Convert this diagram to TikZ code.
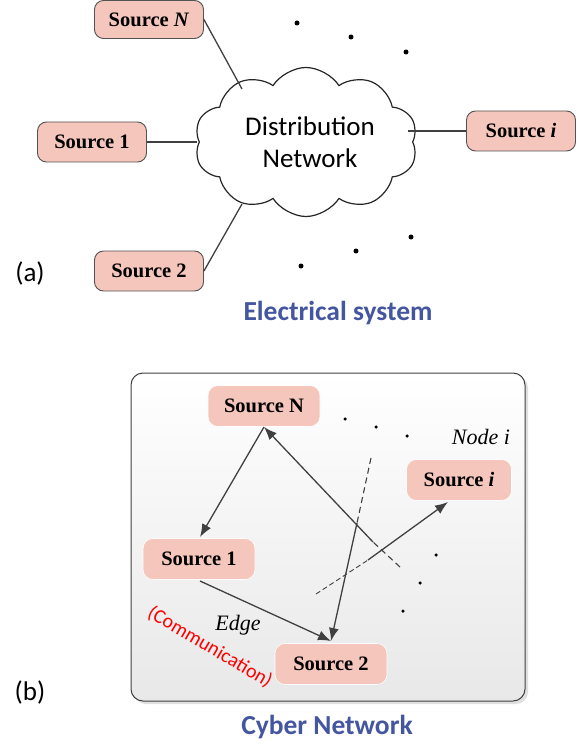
\documentclass[tikz,border=0pt]{standalone}
\usepackage{fontspec}
\newfontfamily\calfont{Carlito}
\newfontfamily\serfont{Liberation Serif}
\usetikzlibrary{shapes.symbols,arrows.meta,shadows,calc}
\definecolor{pinkbox}{RGB}{245,198,187}
\definecolor{edgegray}{RGB}{64,64,64}
\definecolor{titleblue}{RGB}{68,86,160}
\tikzset{
  srcA/.style={draw=edgegray!90, line width=0.9pt, fill=pinkbox, rounded corners=9pt,
    minimum width=109pt, minimum height=40pt, inner sep=0pt, font=\serfont\fontsize{20.5}{23}\selectfont\bfseries},
  srcB/.style={fill=pinkbox, draw=white, line width=0.6pt, rounded corners=10pt,
    minimum width=112pt, minimum height=41pt, inner sep=0pt, font=\serfont\fontsize{20.5}{23}\selectfont\bfseries},
  conn/.style={draw=edgegray, line width=1.3pt},
  arr/.style={draw=edgegray, line width=1.3pt, -{Latex[length=13pt,width=10pt]}},
  dsh/.style={draw=edgegray, line width=1.1pt, dash pattern=on 6pt off 4pt},
  dotmark/.style={circle, fill=black, inner sep=0pt, minimum size=5pt},
  dotsmall/.style={circle, fill=black, inner sep=0pt, minimum size=3.5pt},
  title/.style={font=\calfont\fontsize{27.5}{30}\selectfont\bfseries, text=titleblue},
  lab/.style={font=\calfont\fontsize{27}{30}\selectfont},
}
\begin{document}
\begin{tikzpicture}[x=1pt,y=-1pt]
\useasboundingbox (0,0) rectangle (585,746);
% ---------------- (a) ----------------
\node[cloud, draw=black!85, line width=1.2pt, fill=white, cloud puffs=10, cloud puff arc=115, aspect=1.5,
  minimum width=223pt, minimum height=149pt, inner sep=0pt] (cloud) at (306,142) {};
\node[align=center, font=\calfont\fontsize{27}{32}\selectfont] (cloudtxt) at (310,142) {Distribution\\Network};
\node[srcA, minimum height=38pt] (aN) at (149,19.5) {Source \textit{N}};
\node[srcA] (a1) at (92,142) {Source 1};
\node[srcA] (a2) at (149,271) {Source 2};
\node[srcA] (ai) at (521,131) {Source \textit{i}};
\coordinate (cN) at (242,89);
\coordinate (c1) at (197,142);
\coordinate (c2) at (242,204);
\coordinate (ci) at (408,131);
\draw[conn] (aN.east) -- (cN);
\draw[conn] (a1.east) -- (c1);
\draw[conn] (a2.east) -- (c2);
\draw[conn] (ai.west) -- (ci);
\node[dotmark] (ad1) at (297,23) {};
\node[dotmark] (ad2) at (351,37) {};
\node[dotmark] (ad3) at (406,52) {};
\node[dotmark] (ad4) at (301,266) {};
\node[dotmark] (ad5) at (356,251) {};
\node[dotmark] (ad6) at (411,237) {};
\node[lab] (alab) at (30,273) {(a)};
\node[title] (atitle) at (338,313) {Electrical system};
% ---------------- (b) ----------------
\node[draw=edgegray, line width=1pt, rounded corners=12pt, top color=white, bottom color=black!9,
  minimum width=394pt, minimum height=328pt, inner sep=0pt,
  drop shadow={shadow xshift=3pt, shadow yshift=-3pt, opacity=0.25}] (panel) at (328,537) {};
\node[srcB] (bN) at (264,406) {Source N};
\node[srcB] (b1) at (199,559) {Source 1};
\node[srcB] (b2) at (331,664) {Source 2};
\node[srcB, minimum width=105pt] (bi) at (459,480) {Source \textit{i}};
\node[font=\serfont\fontsize{22}{25}\selectfont\itshape] (nodei) at (481,437) {Node i};
\coordinate (bNs) at (264,427);
\coordinate (b2n) at (331,641);
\coordinate (bis) at (448,502);
% free ends
\coordinate (e1) at (400,567);
\coordinate (e1b) at (373,542);
\coordinate (e2) at (371,458);
\coordinate (e2b) at (357,523);
\coordinate (e3) at (316,594);
\coordinate (e3b) at (368,560);
\draw[arr] (bNs) -- (200,537);
\draw[arr] (200,581) -- (b2n);
\draw[dsh] (e1) -- (e1b);
\draw[arr] (e1b) -- (bNs);
\draw[dsh] (e2) -- (e2b);
\draw[arr] (e2b) -- (b2n);
\draw[dsh, line width=0.9pt, dash pattern=on 5pt off 3pt] (e3) -- (e3b);
\draw[arr] (e3b) -- (bis);
\node[dotsmall] (bd1) at (345,419) {};
\node[dotsmall] (bd2) at (376,427) {};
\node[dotsmall] (bd3) at (407,436) {};
\node[dotsmall] (bd4) at (436,555) {};
\node[dotsmall] (bd5) at (420,583) {};
\node[dotsmall] (bd6) at (403,611) {};
\node[font=\serfont\fontsize{22}{26}\selectfont\itshape] (edge) at (238,625) {Edge};
\node[font=\calfont\fontsize{20}{24}\selectfont, text=red, rotate=-30.5] (comm) at (210,647) {(Communication)};
\node[lab] (blab) at (30,692) {(b)};
\node[title] (btitle) at (327,727) {Cyber Network};
\end{tikzpicture}
\end{document}
